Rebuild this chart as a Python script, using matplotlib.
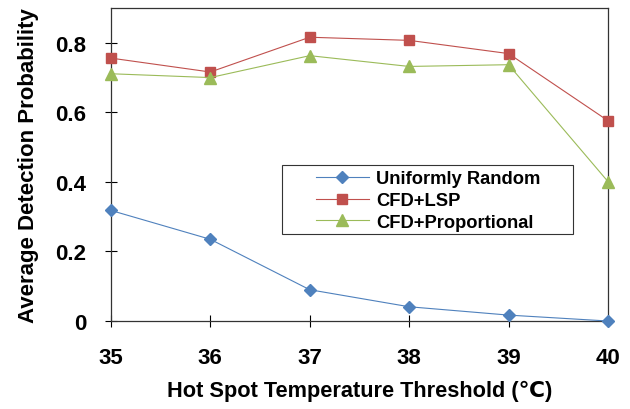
import matplotlib

matplotlib.use("Agg")
import matplotlib.pyplot as plt
from matplotlib.patches import Rectangle
from matplotlib.ticker import FuncFormatter

thresholds = [35, 36, 37, 38, 39, 40]
uniform_random = [0.318, 0.235, 0.090, 0.041, 0.017, 0.0]
cfd_lsp = [0.756, 0.716, 0.816, 0.807, 0.769, 0.576]
cfd_prop = [0.711, 0.700, 0.763, 0.732, 0.737, 0.401]
y_ticks = [0, 0.2, 0.4, 0.6, 0.8]

plt.rcParams["font.family"] = ["Liberation Sans", "DejaVu Sans"]
plt.rcParams["font.weight"] = "bold"

fig = plt.figure(figsize=(6.3, 4.1), dpi=100)
ax = fig.add_axes([0.176, 0.2146, 0.789, 0.7634])

ax.plot(thresholds, uniform_random, color="#4F81BD", lw=0.8, marker="D", ms=6,
        label="Uniformly Random", clip_on=False, zorder=3)
ax.plot(thresholds, cfd_lsp, color="#C0504D", lw=0.8, marker="s", ms=7,
        label="CFD+LSP", clip_on=False, zorder=3)
ax.plot(thresholds, cfd_prop, color="#9BBB59", lw=0.8, marker="^", ms=8,
        label="CFD+Proportional", clip_on=False, zorder=3)

ax.set_xlim(35, 40)
ax.set_ylim(0, 0.9)
ax.set_xticks(thresholds)
ax.set_yticks(y_ticks)
ax.yaxis.set_major_formatter(FuncFormatter(lambda v, p: "0" if v == 0 else f"{v:.1f}"))
ax.tick_params(direction="inout", length=9, width=0.8, labelsize=16)
ax.tick_params(axis="x", pad=14)
ax.tick_params(axis="y", pad=13)
for s in ax.spines.values():
    s.set_linewidth(0.9)
    s.set_color("#333333")

ax.set_xlabel("Hot Spot Temperature Threshold (\u2103)", fontsize=15.7, fontweight="bold", labelpad=9)
ax.set_ylabel("Average Detection Probability", fontsize=16, fontweight="bold", labelpad=12)

# legend box drawn separately to get the wide left/right padding
ax.add_patch(Rectangle((0.344, 0.278), 0.586, 0.220, transform=ax.transAxes,
                       fill=True, facecolor="white", edgecolor="#333333", lw=0.8, zorder=4))
leg = ax.legend(loc="upper left", bbox_to_anchor=(0.412, 0.481), frameon=False,
                handlelength=2.9, handletextpad=0.4, borderpad=0, borderaxespad=0,
                labelspacing=0.25, prop={"weight": "bold", "size": 13.2})
leg.set_zorder(5)

fig.savefig("out.png", dpi=100)
